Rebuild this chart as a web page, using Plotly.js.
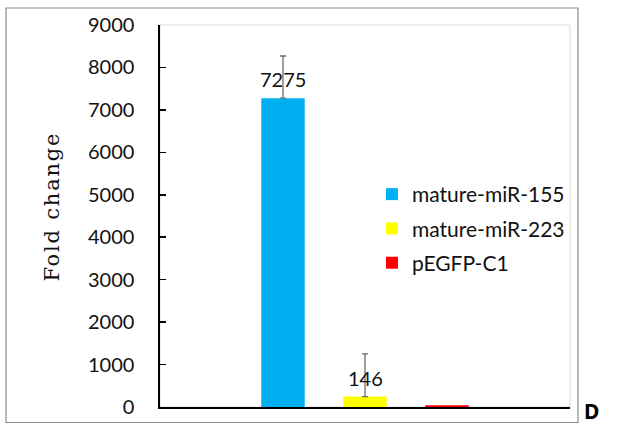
<!DOCTYPE html>
<html>
<head>
<meta charset="utf-8">
<script src="https://cdn.plot.ly/plotly-3.0.1.min.js"></script>
<style>
html,body{margin:0;padding:0;background:#fff;}
#chart{width:637px;height:425px;}
</style>
</head>
<body>
<div id="chart"></div>
<script>
var seriesNames = ["mature-miR-155", "mature-miR-223", "pEGFP-C1"];
var seriesValues = [7275, 245, 40];
var seriesErrors = [995, 1005, 0];
var dataLabels = ["7275", "146", ""];
var seriesColors = ["#00B0F0", "#FFFF00", "#FF0000"];
var yTicks = [0, 1000, 2000, 3000, 4000, 5000, 6000, 7000, 8000, 9000];
var yTitle = "Fold change";

var traces = seriesNames.map(function (name, i) {
  return {
    type: "bar",
    name: name,
    x: [name],
    y: [seriesValues[i]],
    width: 0.53,
    marker: {color: seriesColors[i], line: {width: 0}},
    legendgroup: name,
    error_y: {
      type: "data",
      symmetric: false,
      array: [seriesErrors[i]],
      arrayminus: [0],
      visible: seriesErrors[i] > 0,
      color: "#6b6b6b",
      thickness: 1.3,
      width: 3
    },
    hoverinfo: "skip"
  };
});

var annotations = [];
seriesNames.forEach(function (name, i) {
  if (dataLabels[i]) {
    annotations.push({
      x: name, y: seriesValues[i], xref: "x", yref: "y",
      text: dataLabels[i], showarrow: false,
      yanchor: "middle", yshift: 19,
      font: {family: "Lato, 'Noto Sans', sans-serif", size: 20, color: "#111"}
    });
  }
});
annotations.push({
  x: -0.263, y: 0.525, xref: "paper", yref: "paper",
  xanchor: "center", yanchor: "middle", textangle: -90,
  text: "<span style='letter-spacing:1.8px'>" + yTitle + "</span>", showarrow: false,
  font: {family: "'DejaVu Serif', serif", size: 21, color: "#111"}
});
annotations.push({
  x: 1.03, y: -0.052, xref: "paper", yref: "paper",
  xanchor: "left", yanchor: "bottom",
  text: "<b>D</b>", showarrow: false,
  font: {family: "'Noto Sans', sans-serif", size: 21, color: "#000"}
});

var layout = {
  width: 637, height: 425,
  margin: {l: 160, r: 67, t: 25, b: 18, pad: 0},
  paper_bgcolor: "#fff", plot_bgcolor: "#fff",
  barmode: "overlay",
  showlegend: true,
  legend: {
    x: 0.517, y: 0.61, xanchor: "left", yanchor: "top",
    traceorder: "grouped", tracegroupgap: 4,
    itemwidth: 30,
    bgcolor: "rgba(0,0,0,0)",
    font: {family: "Lato, 'Noto Sans', sans-serif", size: 21, color: "#111"}
  },
  xaxis: {
    type: "category",
    range: [-1.5, 3.5],
    showticklabels: false, ticks: "",
    showgrid: false, zeroline: false,
    showline: true, linecolor: "#000", linewidth: 1.6,
    fixedrange: true
  },
  yaxis: {
    range: [0, 9000],
    tickvals: yTicks,
    ticktext: yTicks.map(String),
    ticks: "inside", ticklen: 6, tickwidth: 1.5, tickcolor: "#000",
    ticklabelstandoff: 20,
    showgrid: false, zeroline: false,
    showline: true, linecolor: "#000", linewidth: 1.6,
    tickfont: {family: "Lato, 'Noto Sans', sans-serif", size: 20, color: "#111"},
    automargin: false,
    fixedrange: true
  },
  shapes: [
    {type: "rect", xref: "paper", yref: "paper", x0: 0, x1: 1, y0: 0, y1: 1,
     line: {color: "#d9d9d9", width: 1}, layer: "below"},
    {type: "rect", xref: "paper", yref: "paper",
     x0: -0.3756, x1: 1.0195, y0: -0.0406, y1: 1.0445,
     line: {color: "#8c8c8c", width: 1.2}, layer: "below"}
  ],
  annotations: annotations
};

Plotly.newPlot("chart", traces, layout, {displayModeBar: false, staticPlot: true});
</script>
</body>
</html>
